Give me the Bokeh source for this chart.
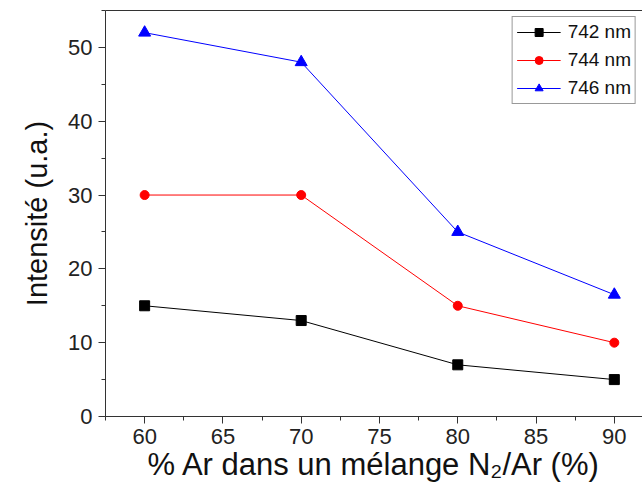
from bokeh.plotting import figure
from bokeh.models import Range1d, SingleIntervalTicker, LinearAxis, Legend, LegendItem
from bokeh.embed import file_html
from bokeh.resources import INLINE

x_vals = [60, 70, 80, 90]
s742 = [15, 13, 7, 5]
s744 = [30, 30, 15, 10]
s746 = [52, 48, 25, 16.5]
labels = ["742 nm", "744 nm", "746 nm"]
colors = ["black", "red", "blue"]

FONT = "Liberation Sans"

p = figure(width=642, height=494, output_backend="svg", toolbar_location=None,
           x_range=Range1d(57.5, 91.8), y_range=Range1d(0, 55),
           min_border_left=105, min_border_right=0, min_border_top=10, min_border_bottom=78)
p.grid.visible = False
p.outline_line_color = None
p.background_fill_color = "white"
p.border_fill_color = "white"

for ax, iv in ((p.xaxis[0], 5), (p.yaxis[0], 10)):
    ax.ticker = SingleIntervalTicker(interval=iv, num_minor_ticks=2)
    ax.axis_line_color = "#333333"
    ax.major_tick_line_color = "#333333"
    ax.minor_tick_line_color = "#333333"
    ax.major_tick_out = 7
    ax.major_tick_in = 0
    ax.minor_tick_out = 4
    ax.minor_tick_in = 0
    ax.major_label_text_font = FONT
    ax.major_label_text_font_size = "22px"
    ax.major_label_text_color = "#222222"
    ax.axis_label_text_font = FONT
    ax.axis_label_text_font_style = "normal"
    ax.axis_label_text_color = "#111111"

p.xaxis.axis_label = "% Ar dans un mélange N₂/Ar (%)"
p.yaxis.axis_label = "Intensité (u.a.)"
p.xaxis.axis_label_text_font_size = "31px"
p.yaxis.axis_label_text_font_size = "29px"
p.xaxis.axis_label_standoff = 0
p.yaxis.axis_label_standoff = 12
p.yaxis.major_label_standoff = 6
p.xaxis.major_label_standoff = 5

top = LinearAxis(axis_line_color="#333333", major_tick_line_color=None, minor_tick_line_color=None,
                 major_tick_out=0, major_tick_in=0, minor_tick_out=0, minor_tick_in=0,
                 major_label_standoff=0,
                 major_label_text_font_size="0px", major_label_text_color=None)
top.ticker = SingleIntervalTicker(interval=5)
p.add_layout(top, "above")

items = []
series = [s742, s744, s746]
markers = ["square", "circle", "triangle"]
sizes = [10, 9, 12]
for ys, c, m, sz, lab in zip(series, colors, markers, sizes, labels):
    l = p.line(x_vals, ys, line_color=c, line_width=1)
    s = p.scatter(x_vals, ys, marker=m, size=sz, fill_color=c, line_color=c)
    items.append(LegendItem(label=lab, renderers=[l, s]))

leg = Legend(items=items, location="top_right")
leg.label_text_font = FONT
leg.label_text_font_size = "19px"
leg.label_text_color = "#111111"
leg.border_line_color = "#333333"
leg.border_line_width = 1
leg.glyph_width = 44
leg.glyph_height = 20
leg.label_height = 20
leg.spacing = 6
leg.padding = 4
leg.margin = 6
leg.label_standoff = 7
p.add_layout(leg)

open("out.html", "w").write(file_html(p, INLINE))
